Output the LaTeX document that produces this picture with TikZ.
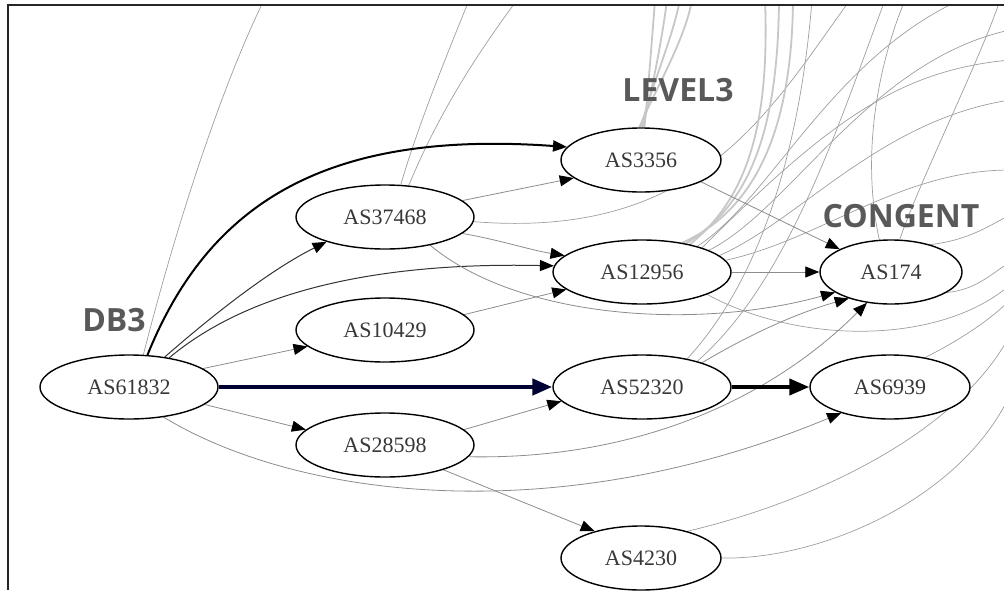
\documentclass[tikz,border=0pt]{standalone}
\usepackage{fontspec}
\setmainfont{Liberation Serif}
\newfontfamily\labfont{Open Sans}
\usetikzlibrary{shapes.geometric,arrows.meta}
\pgfdeclarelayer{bglines}
\pgfsetlayers{bglines,main}
\begin{document}
\begin{tikzpicture}[x=1pt,y=-1pt,
  asnode/.style={draw=black,line width=1.4pt,ellipse,fill=white,minimum width=178pt,minimum height=64pt,inner sep=0pt,font=\fontsize{22}{22}\selectfont,text=black!78},
  lab/.style={font=\labfont\bfseries\fontsize{32}{32}\selectfont,text=black!65,inner sep=0pt},
  bg/.style={draw=black!38,line width=0.7pt},
  bund/.style={draw=black!22,line width=1.8pt},
  edg/.style={draw=black!45,line width=0.8pt,-{Triangle[length=14pt,width=11pt,color=black]}},
  edgdark/.style={draw=black!80,line width=1pt,-{Triangle[length=14pt,width=11pt,color=black]}},
  heavy/.style={draw=black,line width=2pt,-{Triangle[length=14pt,width=11pt,color=black]}},
  heavier/.style={draw=black!80!blue,line width=4.5pt,-{Triangle[length=20pt,width=16pt,color=black!80!blue]}},
  frame/.style={draw=black!85,line width=2pt}
]
\useasboundingbox (0,0) rectangle (1004,590);

% nodes
\node[asnode] (n61832) at (129,387) {AS61832};
\node[asnode] (n37468) at (385,217) {AS37468};
\node[asnode] (n10429) at (385,330) {AS10429};
\node[asnode] (n28598) at (385,445) {AS28598};
\node[asnode,minimum width=160pt] (n3356) at (641,160) {AS3356};
\node[asnode] (n12956) at (642,272) {AS12956};
\node[asnode,minimum width=142pt] (n174) at (891,272) {AS174};
\node[asnode] (n52320) at (642,387) {AS52320};
\node[asnode,minimum width=160pt] (n6939) at (890,387) {AS6939};
\node[asnode,minimum width=160pt] (n4230) at (641,558) {AS4230};

% labels
\node[lab] (lDB3) at (114,320) {DB3};
\node[lab] (lLEVEL3) at (678,90) {LEVEL3};
\node[lab] (lCONGENT) at (901,216) {CONGENT};

% free ends outside the picture
\coordinate (t1) at (264,0);
\coordinate (t2) at (469,0);
\coordinate (t3) at (517,0);
\coordinate (t4) at (850,0);
\coordinate (L1) at (655,0);
\coordinate (L2) at (667,0);
\coordinate (L3) at (680,0);
\coordinate (L4) at (692,0);
\coordinate (B1) at (765,0);
\coordinate (B2) at (779,0);
\coordinate (B3) at (793,0);
\coordinate (w1) at (960,0);
\coordinate (w2) at (1010,30);
\coordinate (w3) at (1010,100);
\coordinate (w4) at (1010,170);
\coordinate (w5) at (1000,0);
\coordinate (w6) at (1010,215);
\coordinate (w7) at (1010,262);
\coordinate (w8) at (1010,300);
\coordinate (w9) at (1010,335);
\coordinate (w10) at (1010,395);
\coordinate (w11) at (1010,285);
\coordinate (w13) at (812,0);
\coordinate (w14) at (885,0);
\coordinate (w15) at (1010,60);
\coordinate (w16) at (905,0);

\begin{pgfonlayer}{bglines}
\begin{scope}
\clip (8,5) rectangle (1004,590);
% lines leaving the picture
\draw[bg] (n61832.66) .. controls (175,230) and (220,90) .. (t1);
\draw[bg] (n37468.64) .. controls (420,120) and (445,60) .. (t2);
\draw[bg] (n37468.53) .. controls (440,110) and (480,50) .. (t3);
\draw[bg] (n37468.357) .. controls (700,240) and (770,110) .. (t4);
\draw[bund] (n3356.84) .. controls (648,90) and (652,40) .. (L1);
\draw[bund] (n3356.87) .. controls (652,90) and (662,40) .. (L2);
\draw[bund] (n3356.90) .. controls (650,90) and (672,40) .. (L3);
\draw[bund] (n3356.93) .. controls (655,90) and (685,40) .. (L4);
\draw[bund] (n12956.30) .. controls (745,200) and (770,130) .. (B1);
\draw[bund] (n12956.33) .. controls (750,205) and (778,130) .. (B2);
\draw[bund] (n12956.36) .. controls (755,210) and (792,130) .. (B3);
\draw[bg] (n12956.25) .. controls (770,200) and (830,60) .. (w1);
\draw[bg] (n12956.18) .. controls (790,210) and (870,60) .. (w2);
\draw[bg] (n12956.12) .. controls (800,220) and (880,120) .. (w3);
\draw[bg] (n12956.8) .. controls (820,240) and (900,170) .. (w4);
\draw[bg] (n12956.22) .. controls (830,120) and (900,70) .. (w15);
\draw[bg] (n174.75) .. controls (920,180) and (980,60) .. (w5);
\draw[bg] (n174.110) .. controls (860,150) and (880,60) .. (w16);
\draw[bg] (n174.35) .. controls (970,240) and (990,225) .. (w6);
\draw[bg] (n174.340) .. controls (975,290) and (990,275) .. (w7);
\draw[bg] (n6939.40) .. controls (960,340) and (990,320) .. (w8);
\draw[bg] (n4230.30) .. controls (820,500) and (960,430) .. (w9);
\draw[bg] (n4230.east) .. controls (820,560) and (960,500) .. (w10);
\draw[bg] (n12956.341) .. controls (800,345) and (940,345) .. (w11);
\draw[bg] (n52320.32) .. controls (760,280) and (800,150) .. (w13);
\draw[bg] (n52320.25) .. controls (790,280) and (840,120) .. (w14);
\end{scope}

% edges between nodes
\draw[heavy] (n61832.60) .. controls (210,200) and (330,130) .. (n3356.170);
\draw[edgdark] (n61832.40) .. controls (230,300) and (280,265) .. (n37468.203);
\draw[edgdark] (n61832.36) .. controls (250,290) and (380,262) .. (n12956.176);
\draw[edg] (n61832.14) -- (n10429.192);
\draw[heavier] (n61832.east) -- (n52320.west);
\draw[edg] (n61832.347) -- (n28598.169);
\draw[edg] (n61832.319) .. controls (300,500) and (560,530) .. (n6939.208);
\draw[edg] (n37468.12) -- (n3356.195);
\draw[edg] (n37468.348) .. controls (500,240) and (530,250) .. (n12956.168);
\draw[edg] (n37468.328) .. controls (520,320) and (700,330) .. (n174.200);
\draw[edg] (n10429.11) -- (n12956.193);
\draw[edg] (n28598.11) -- (n52320.190);
\draw[edg] (n28598.352) .. controls (650,460) and (780,390) .. (n174.232);
\draw[edg] (n28598.337) -- (n4230.150);
\draw[edg] (n3356.340) -- (n174.156);
\draw[edg] (n12956.east) -- (n174.west);
\draw[edg] (n52320.22) .. controls (740,340) and (790,315) .. (n174.212);
\draw[heavy,line width=4pt,-{Triangle[length=20pt,width=16pt,color=black]}] (n52320.east) -- (n6939.west);
\end{pgfonlayer}

% frame
\draw[frame] (8,590) -- (8,5) -- (1004,5);
\end{tikzpicture}
\end{document}
